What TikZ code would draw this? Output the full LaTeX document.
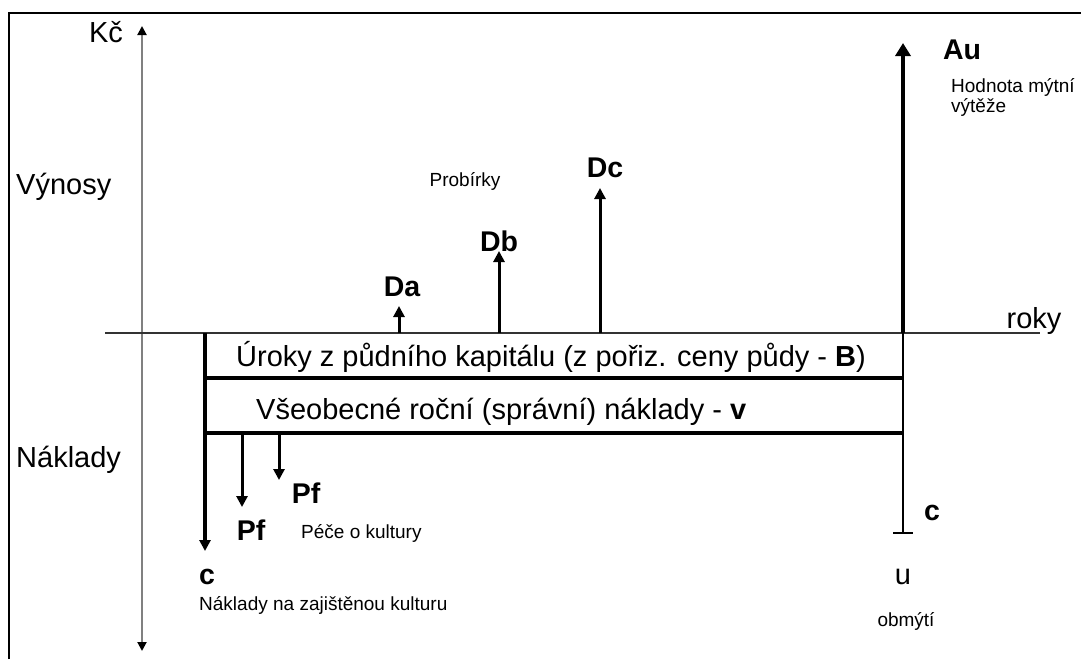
\documentclass[tikz,border=0pt]{standalone}
\usepackage{fontspec}
\setmainfont{Liberation Sans}
\usetikzlibrary{arrows.meta}

\begin{document}
\begin{tikzpicture}[x=1pt, y=-1pt, every node/.style={inner sep=0pt}, big/.style={font=\fontsize{29}{33}\selectfont}, bold/.style={font=\fontsize{28.5}{33}\selectfont\bfseries}, small/.style={font=\fontsize{19}{23}\selectfont, align=left}, thick line/.style={line width=4.5pt}, >={Triangle[length=11pt,width=11pt,color=black]}]
			\useasboundingbox (0,0) rectangle (1081,659);
			\draw[line width=1.6pt] (9,659) -- (9,13) -- (1081,13);
			
			\coordinate (ylo) at (142,651);
			\coordinate (yhi) at (142,26);
			\coordinate (xl) at (105,333);
			\coordinate (xr) at (1040,333);
			\coordinate (s) at (205,333);
			\coordinate (send) at (205,551);
			\coordinate (e) at (903,333);
			\coordinate (etop) at (903,43);
			\coordinate (eend) at (903,533);
			\coordinate (b1l) at (205,378);
			\coordinate (b1r) at (903,378);
			\coordinate (b2l) at (205,433);
			\coordinate (b2r) at (903,433);
			\coordinate (da0) at (399,333);
			\coordinate (da1) at (399,306);
			\coordinate (db0) at (499,333);
			\coordinate (db1) at (499,251);
			\coordinate (dc0) at (600,333);
			\coordinate (dc1) at (600,188);
			\coordinate (pa0) at (242,433);
			\coordinate (pa1) at (242,507);
			\coordinate (pb0) at (279,433);
			\coordinate (pb1) at (279,480);
			\coordinate (tl) at (893,533);
			\coordinate (tr) at (913,533);
			
			\node[big] (kc) at (106,32) {Kč};
			\node[big, anchor=west] (vyn) at (16,187) {Výnosy};
			\node[big, anchor=west] (nak) at (16,460) {Náklady};
			\node[big] (roky) at (1034,321) {roky};
			
			\node[bold] (au) at (962,50) {Au};
			\node[small, anchor=north west] (hod) at (951,78) {Hodnota mýtní\\[-3pt]výtěže};
			\node[bold] (da) at (402,287) {Da};
			\node[bold] (db) at (499,241) {Db};
			\node[bold] (dc) at (605,168) {Dc};
			\node[small] (prob) at (465,181) {Probírky};
			
			\node[big] (uroky) at (551,357) {Úroky z půdního kapitálu (z pořiz. ceny půdy - \textbf{B})};
			\node[big, anchor=west] (vseob) at (256,412) {Všeobecné roční (správní) náklady - \textbf{v}};
			
			\node[bold] (pf1) at (306,493) {Pf};
			\node[bold] (pf2) at (251,530) {Pf};
			\node[small, anchor=west] (pece) at (301,533) {Péče o kultury};
			\node[bold] (c1) at (207,577) {c};
			\node[small, anchor=west] (nakl) at (199,605) {Náklady na zajištěnou kulturu};
			\node[bold] (c2) at (932,513) {c};
			\node[big] (u) at (903,577) {u};
			\node[small] (obm) at (906,621) {obmýtí};
			
			\draw[gray, line width=2pt, {Triangle[length=9pt,width=9pt,color=black]}-{Triangle[length=9pt,width=9pt,color=black]}] (ylo) -- (yhi);
			\draw[black!80, line width=1.3pt] (xl) -- (xr);
			\draw[line width=4pt, ->] (s) -- (send);
			\draw[thick line] (b1l) -- (b1r);
			\draw[thick line] (b2l) -- (b2r);
			\draw[line width=4pt, -{Triangle[length=13pt,width=15pt]}] (e) -- (etop);
			\draw[line width=1.5pt] (e) -- (eend);
			\draw[line width=1.5pt] (tl) -- (tr);
			\draw[line width=3pt, ->] (da0) -- (da1);
			\draw[line width=3pt, ->] (db0) -- (db1);
			\draw[line width=3pt, ->] (dc0) -- (dc1);
			\draw[line width=3pt, ->] (pa0) -- (pa1);
			\draw[line width=3pt, ->] (pb0) -- (pb1);
			\end{tikzpicture}
\end{document}
